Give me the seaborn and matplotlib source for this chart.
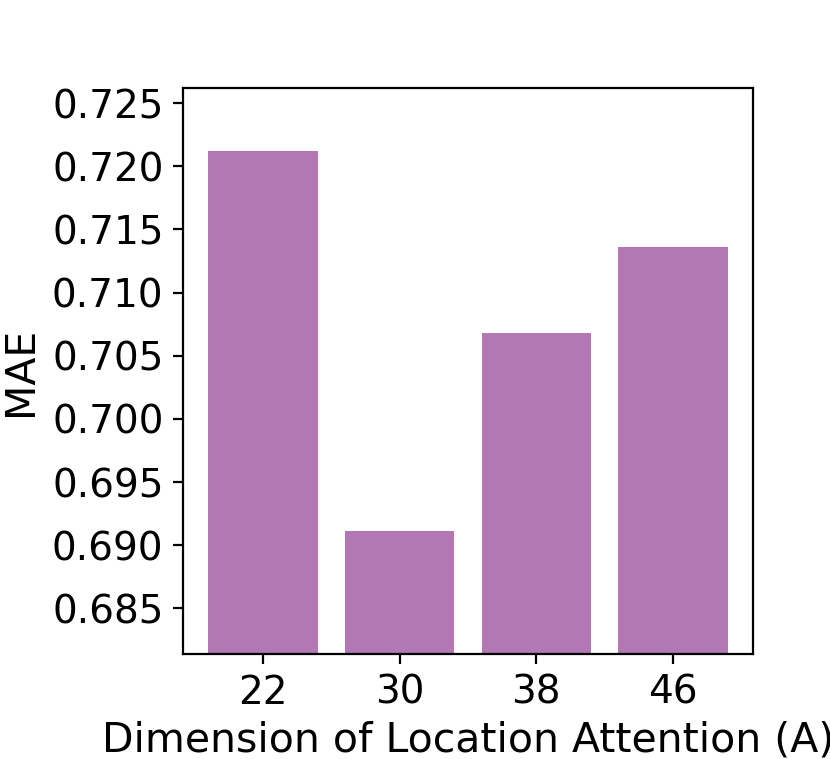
import matplotlib
matplotlib.use("Agg")
import matplotlib.pyplot as plt
import seaborn as sns
import pandas as pd

dims = ["22", "30", "38", "46"]
mae = [0.7212, 0.6911, 0.7068, 0.7136]
yticks = [0.685, 0.690, 0.695, 0.700, 0.705, 0.710, 0.715, 0.720, 0.725]

df = pd.DataFrame({"dim": dims, "mae": mae})

plt.rcParams["font.family"] = ["DejaVu Sans"]
fig = plt.figure(figsize=(8.3, 7.59), dpi=100)
ax = fig.add_axes([0.2205, 0.138, 0.6865, 0.746])
sns.barplot(data=df, x="dim", y="mae", order=dims, color="#b377b3",
            saturation=1, width=0.8, linewidth=0, ax=ax)
ax.set_xlim(-0.584, 3.584)
ax.set_ylim(0.68136, 0.7262)
ax.set_yticks(yticks)
ax.set_yticklabels([f"{v:.3f}" for v in yticks])
ax.tick_params(axis="both", labelsize=28, length=7, width=1.6, pad=7)
ax.set_xlabel("Dimension of Location Attention (A)", fontsize=29.5, labelpad=6)
ax.set_ylabel("MAE", fontsize=29.5, labelpad=8)
for s in ax.spines.values():
    s.set_linewidth(1.6)
fig.savefig("out.png", dpi=100)
